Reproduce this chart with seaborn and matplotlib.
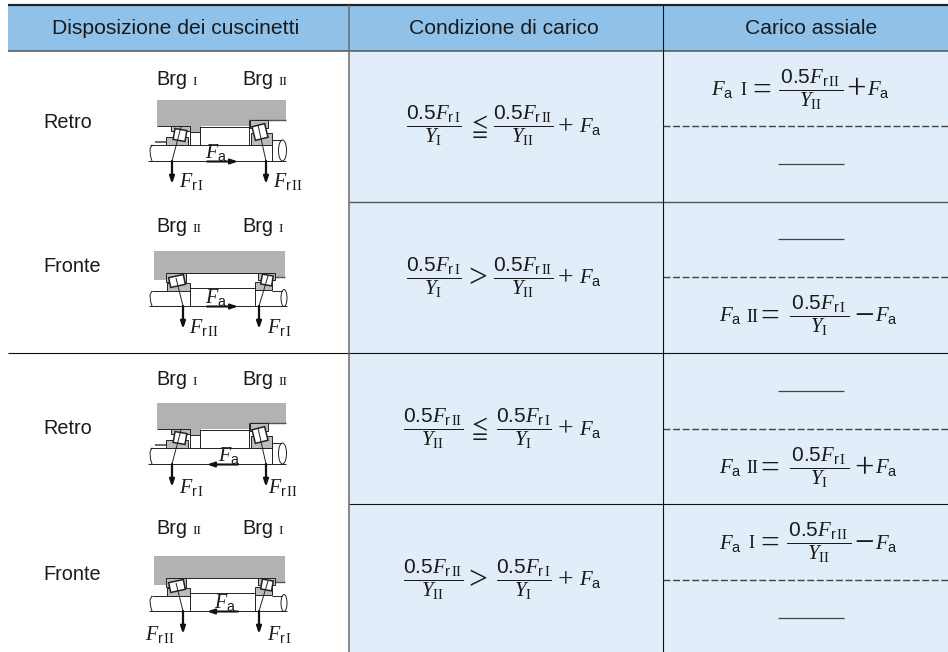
import matplotlib
matplotlib.use('Agg')
import matplotlib.pyplot as plt
from matplotlib.patches import Polygon, Rectangle, Ellipse
from matplotlib.transforms import Affine2D
import seaborn as sns

sns.set_theme(style='white')
plt.rcParams['font.family'] = ['Liberation Sans', 'DejaVu Sans']
plt.rcParams['mathtext.fontset'] = 'custom'
plt.rcParams['mathtext.rm'] = 'Liberation Sans'
plt.rcParams['mathtext.it'] = 'Liberation Serif:italic'
plt.rcParams['mathtext.sf'] = 'Liberation Serif'

headers = ['Disposizione dei cuscinetti', 'Condizione di carico', 'Carico assiale']
arrangements = ['Retro', 'Fronte', 'Retro', 'Fronte']
brg_left = ['I', 'II', 'I', 'II']
brg_right = ['II', 'I', 'II', 'I']
cond_first = ['I', 'I', 'II', 'II']
cond_second = ['II', 'II', 'I', 'I']
cond_rel = ['le', 'gt', 'le', 'gt']
load_upper = ['I', None, None, 'I']
load_lower = [None, 'II', 'II', None]
load_op = ['+', '\u2212', '+', '\u2212']

# page layout, in pixels of the reference
col_x = [8, 349, 663, 948]
row_y = [50.5, 201.7, 353, 504, 655]
dash_y = [126, 277, 429, 580]
diagram_top = [100, 251, 403, 556]
brg_y = [85, 232, 385, 534]
label_y = [122, 267, 429, 575]
fa_dir = [1, 1, -1, -1]
fa_label_x = [205, 205, 218, 214]
fr_left_x = [179, 189, 179, 145]
fr_right_x = [273, 267, 268, 267]
fr_y = [181, 327, 487, 634]
load_dx = [-8, 0, 0, 0]

header_blue = '#90c1e8'
cell_blue = '#e1edf8'
rule_grey = '#555555'
ink = '#1a1a1a'

fig, ax = plt.subplots(figsize=(9.48, 6.52), dpi=100)
fig.subplots_adjust(0, 0, 1, 1)
ax.set_xlim(0, 948)
ax.set_ylim(652, 0)
ax.axis('off')
sns.despine(ax=ax, left=True, bottom=True)


def seg(xs, ys, lw=0.7, c='#222222', z=5, **kw):
    ax.plot(xs, ys, color=c, lw=lw, zorder=z, solid_capstyle='butt', **kw)


def race(x0, x1, y0, y1):
    ax.add_patch(Rectangle((x0, y0), x1 - x0, y1 - y0, fc='#bcbcbc', ec='#222222', lw=0.7, zorder=6))


def roller(cx, cy, w, h, ang):
    tr = Affine2D().rotate_deg_around(cx, cy, ang) + ax.transData
    ax.add_patch(Rectangle((cx - w / 2, cy - h / 2), w, h, fc='white', ec='#222222', lw=1.1, zorder=7, transform=tr))


def arrow(x0, y0, x1, y1, lw=1.6):
    ax.annotate('', xy=(x1, y1), xytext=(x0, y0), zorder=9,
                arrowprops=dict(arrowstyle='-|>,head_width=0.12,head_length=0.35', lw=lw, color='#111111',
                                shrinkA=0, shrinkB=0))


def fr(n):
    return r'$F_{\mathrm{r}\,\mathsf{%s}}$' % n


def frac(num, den, pad=''):
    return r'$\dfrac{%s\mathrm{0.5}F_{\mathrm{r}\,\mathsf{%s}}%s}{Y_{\mathsf{%s}}}$' % (pad, num, pad, den)


def sym(x, bar, s, size):
    # operator sits on the fraction bar
    ax.text(x, bar + 0.33 * size * 100 / 72, s, ha='center', va='baseline', fontsize=size,
            family='Liberation Serif', color=ink)


def fa_text(x, y, size=15):
    ax.text(x, y, r'$F_{\mathrm{a}}$', ha='left', va='baseline', fontsize=size, color=ink, zorder=10)


def draw_back(top):
    ax.add_patch(Polygon([(157, top), (286, top), (286, top + 19.5), (249, top + 19.5), (249, top + 26),
                          (200, top + 26), (200, top + 32), (190, top + 32), (190, top + 26),
                          (157, top + 26)], fc='#b2b2b2', ec='none', zorder=3))
    seg([249, 286], [top + 19.5, top + 19.5], c='#555555', lw=1.0)
    seg([157, 190], [top + 26, top + 26])
    seg([200, 249], [top + 26.5, top + 26.5])
    seg([190, 200], [top + 32, top + 32])
    seg([150, 272], [top + 45, top + 45])
    seg([272, 281], [top + 40, top + 40])
    seg([148, 286], [top + 61, top + 61])
    seg([190, 190], [top + 26, top + 45])
    seg([200, 200], [top + 26, top + 45])
    seg([249.5, 249.5], [top + 20, top + 45])
    seg([272, 272], [top + 40, top + 61])
    seg([155, 167], [top + 41.5, top + 41.5], lw=1.4, c='#666666')
    ax.add_patch(Ellipse((282.5, top + 50.5), 8, 21, fc='white', ec='#222222', lw=0.7, zorder=4))
    ax.plot([152, 150, 150.5, 152], [top + 45, top + 49, top + 56, top + 61], color='#222222', lw=0.7, zorder=5)
    race(171, 190, top + 26, top + 31)
    race(166, 188, top + 37, top + 45)
    roller(180, top + 35, 12, 11, 10)
    race(250, 268, top + 20, top + 28)
    race(251, 272, top + 33, top + 45)
    roller(260, top + 32, 13, 14, -14)
    seg([181, 172], [top + 27, top + 61], z=8)
    seg([258, 266], [top + 25, top + 61], z=8)
    arrow(172, top + 61, 172, top + 84)
    arrow(266, top + 61, 266, top + 84)
    return top + 61


def draw_front(top):
    ax.add_patch(Polygon([(154, top), (285, top), (285, top + 26), (275, top + 26), (275, top + 22),
                          (166, top + 22), (166, top + 29), (154, top + 29)], fc='#b2b2b2', ec='none', zorder=3))
    seg([166, 275], [top + 22, top + 22])
    seg([275, 285], [top + 26, top + 26], c='#555555', lw=1.0)
    seg([190, 255], [top + 37, top + 37])
    seg([152, 167], [top + 40, top + 40])
    seg([272, 282], [top + 40, top + 40])
    seg([149, 287], [top + 55, top + 55])
    seg([190, 190], [top + 37, top + 55])
    seg([255, 255], [top + 37, top + 55])
    ax.add_patch(Ellipse((284, top + 47), 6, 17, fc='white', ec='#222222', lw=0.7, zorder=4))
    ax.plot([152, 150, 150.5, 152], [top + 40, top + 44, top + 50, top + 55], color='#222222', lw=0.7, zorder=5)
    race(166, 186, top + 22, top + 31)
    race(167, 190, top + 32, top + 40)
    roller(177, top + 30, 15, 10, -12)
    race(258, 275, top + 22, top + 29)
    race(255, 272, top + 31, top + 39)
    roller(267, top + 29, 11, 10, 10)
    seg([176, 183], [top + 27, top + 55], z=8)
    seg([268, 259], [top + 25, top + 55], z=8)
    arrow(183, top + 55, 183, top + 78)
    arrow(259, top + 55, 259, top + 78)
    return top + 55


# header and body fills
ax.add_patch(Rectangle((col_x[0], 5), col_x[3] - col_x[0], row_y[0] - 5, fc=header_blue, ec='none', zorder=1))
ax.add_patch(Rectangle((col_x[1], row_y[0]), col_x[3] - col_x[1], row_y[4] - row_y[0], fc=cell_blue, ec='none', zorder=1))

# rules
seg([col_x[0], col_x[3]], [5, 5], lw=1.6, c='#222222', z=4)
seg([col_x[0], col_x[3]], [row_y[0], row_y[0]], lw=1.1, c=rule_grey, z=4)
seg([col_x[0], col_x[3]], [row_y[2], row_y[2]], lw=0.8, c='#111111', z=4)
seg([col_x[1], col_x[3]], [row_y[1], row_y[1]], lw=1.0, c=rule_grey, z=4)
seg([col_x[1], col_x[3]], [row_y[3], row_y[3]], lw=0.8, c='#111111', z=4)
seg([col_x[1], col_x[1]], [5, 652], lw=1.1, c='#6a6a6a', z=4)
seg([col_x[2], col_x[2]], [5, 652], lw=0.8, c='#111111', z=4)

header_cx = [176, 503.5, 811.5]
for j, h in enumerate(headers):
    ax.text(header_cx[j], 28, h, ha='center', va='center', fontsize=15.25, color=ink)

for i in range(4):
    y0, y1 = row_y[i], row_y[i + 1]
    top = diagram_top[i]
    ax.text(43, label_y[i], arrangements[i], ha='left', va='center', fontsize=14.3, color=ink)
    for bx, name in ((156, brg_left[i]), (242, brg_right[i])):
        ax.text(bx, brg_y[i], 'Brg', ha='left', va='baseline', fontsize=14.3, color=ink)
        ax.text(bx + 36, brg_y[i], name, ha='left', va='baseline', fontsize=9.5, family='Liberation Serif', color=ink)

    base = draw_back(top) if arrangements[i] == 'Retro' else draw_front(top)
    if fa_dir[i] > 0:
        arrow(207, base + 0.5, 238, base + 0.5, lw=1.5)
    else:
        arrow(238, base + 0.5, 207, base + 0.5, lw=1.5)
    fa_text(fa_label_x[i], base - 3, 14.5)
    ax.text(fr_left_x[i], fr_y[i] + 6, fr(brg_left[i]), ha='left', va='baseline', fontsize=14.5, color=ink, zorder=10)
    ax.text(fr_right_x[i], fr_y[i] + 6, fr(brg_right[i]), ha='left', va='baseline', fontsize=14.5, color=ink, zorder=10)

    # load condition, assembled piece by piece
    bar = (y0 + y1) / 2 - 1
    ax.text(433.5, bar + 1, frac(cond_first[i], cond_first[i]), ha='center', va='center', fontsize=15, color=ink)
    if cond_rel[i] == 'le':
        ax.text(478, bar + 1, r'$\leqq$', ha='center', va='center', fontsize=17, color=ink)
    else:
        sym(478, bar, '>', 24)
    ax.text(523.5, bar + 1, frac(cond_second[i], cond_second[i]), ha='center', va='center', fontsize=15, color=ink)
    sym(565, bar, '+', 20)
    fa_text(579, bar + 7)

    # axial load column
    seg([col_x[2], col_x[3]], [dash_y[i], dash_y[i]], lw=1.0, c='#444444', ls=(0, (5, 1.9)), z=4)
    for name, other, yc in ((load_upper[i], 'II', (y0 + dash_y[i]) / 2), (load_lower[i], 'I', (dash_y[i] + y1) / 2)):
        if name is None:
            seg([778, 844], [yc, yc], lw=0.9, c='#444444')
        else:
            dx = load_dx[i]
            fa_text(719 + dx, yc + 6.5)
            ax.text(746.5 + dx if name == 'II' else 748 + dx, yc + 6.5, name, ha='left', va='baseline', fontsize=13,
                    family='Liberation Serif', color=ink)
            sym(770 + dx, yc, '=', 24)
            ax.text(819 + dx, yc + 1, frac(other, other, r'\,'), ha='center', va='center', fontsize=15, color=ink)
            sym(864.5 + dx, yc, load_op[i], 25)
            fa_text(875 + dx, yc + 6.5)

fig.savefig('out.png', dpi=100)
